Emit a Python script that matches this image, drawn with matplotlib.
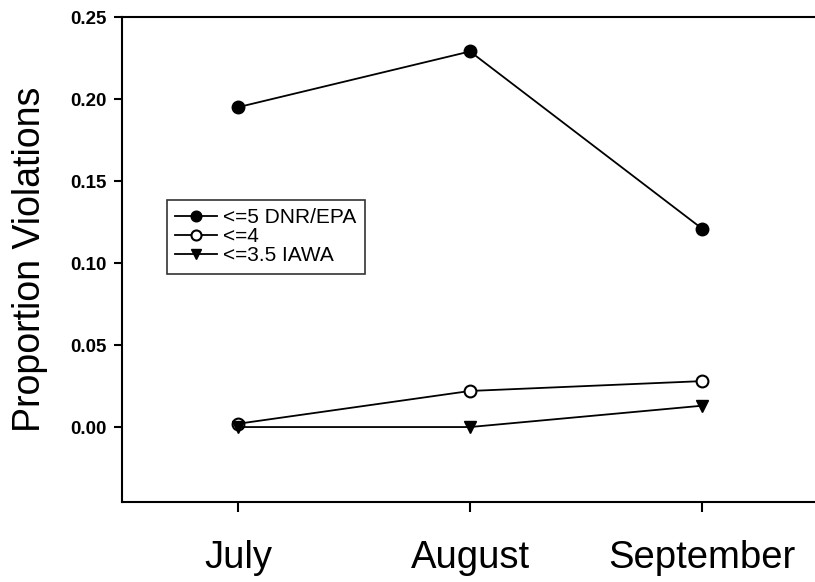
import matplotlib
matplotlib.use("Agg")
import matplotlib.pyplot as plt

months = ["July", "August", "September"]
dnr_epa = [0.195, 0.229, 0.121]
le4 = [0.002, 0.022, 0.028]
iawa = [0.0, 0.0, 0.013]
y_ticks = [0.00, 0.05, 0.10, 0.15, 0.20, 0.25]
series_labels = ["<=5 DNR/EPA", "<=4", "<=3.5 IAWA"]

plt.rcParams['font.family'] = ['Liberation Sans', 'DejaVu Sans']

fig = plt.figure(figsize=(8.15, 5.82), dpi=100)
ax = fig.add_axes([122/815, 1-502/582, 696/815, 485/582])

x = list(range(len(months)))
ax.plot(x, dnr_epa, color='black', lw=1.3, marker='o', ms=9, mfc='black', mec='black', label=series_labels[0])
ax.plot(x, le4, color='black', lw=1.3, marker='o', ms=8.5, mfc='white', mec='black', mew=1.5, label=series_labels[1])
ax.plot(x, iawa, color='black', lw=1.3, marker='v', ms=9, mfc='black', mec='black', label=series_labels[2])

ax.set_xlim(-0.5, 2.5)
ax.set_ylim(-0.0457, 0.25)
ax.set_xticks(x)
ax.set_xticklabels(months, fontsize=27.5)
ax.set_yticks(y_ticks)
ax.set_yticklabels([f"{v:.2f}" for v in y_ticks], fontsize=13.5, fontweight='bold')
ax.tick_params(axis='x', direction='out', length=7, width=1.5, pad=20)
ax.tick_params(axis='y', direction='out', length=6, width=1.5, pad=5)
ax.set_ylabel("Proportion Violations", fontsize=27, labelpad=16)

for s in ['left', 'bottom', 'top']:
    ax.spines[s].set_linewidth(1.5)
ax.spines['right'].set_visible(False)

leg = ax.legend(loc='upper left', bbox_to_anchor=((167-122)/696, (502-200)/485),
                fontsize=15, frameon=True, fancybox=False, edgecolor='black',
                borderpad=0.4, handlelength=2.0, labelspacing=0.0, handletextpad=0.3,
                borderaxespad=0, markerscale=0.85)
leg.get_frame().set_linewidth(1.2)

fig.savefig("out.png", dpi=100)
